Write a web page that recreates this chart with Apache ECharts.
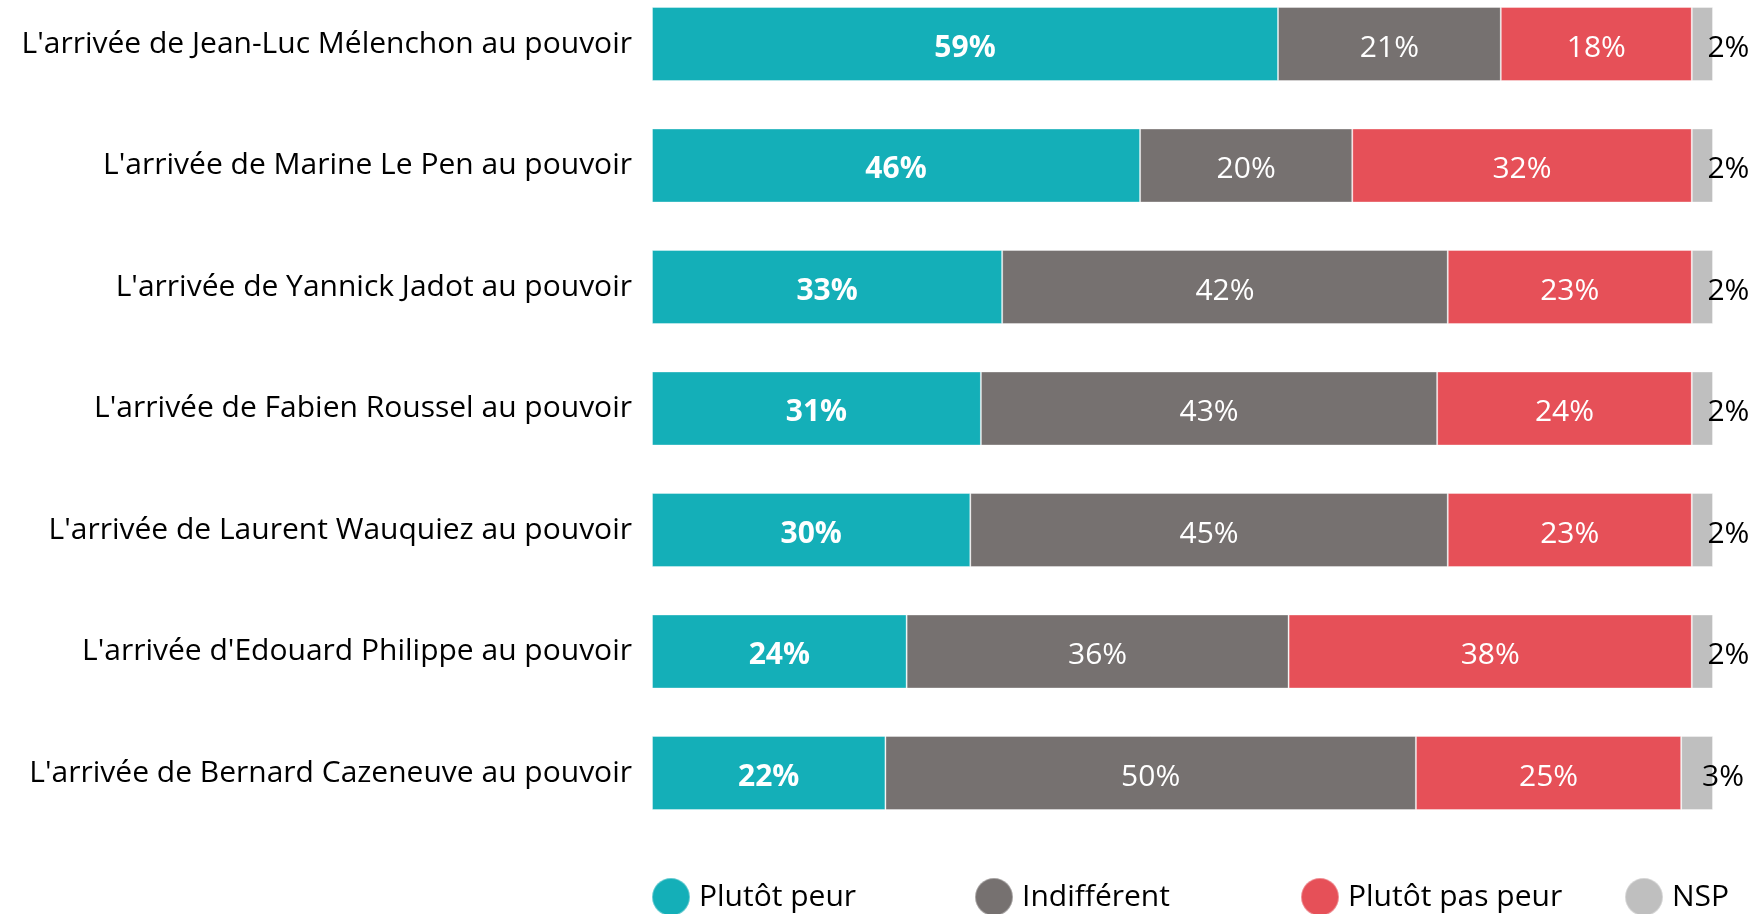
<!DOCTYPE html>
<html>
<head>
<meta charset="utf-8">
<script src="https://cdn.jsdelivr.net/npm/echarts@6/dist/echarts.min.js"></script>
<style>
  html, body { margin: 0; padding: 0; background: #fff; }
  #main { width: 1760px; height: 914px; }
</style>
</head>
<body>
<div id="main"></div>
<script>
const categories = [
    "L'arrivée de Jean-Luc Mélenchon au pouvoir",
    "L'arrivée de Marine Le Pen au pouvoir",
    "L'arrivée de Yannick Jadot au pouvoir",
    "L'arrivée de Fabien Roussel au pouvoir",
    "L'arrivée de Laurent Wauquiez au pouvoir",
    "L'arrivée d'Edouard Philippe au pouvoir",
    "L'arrivée de Bernard Cazeneuve au pouvoir"
];
const legendNames = ['Plutôt peur', 'Indifférent', 'Plutôt pas peur', 'NSP'];
const peur = [59, 46, 33, 31, 30, 24, 22];
const indifferent = [21, 20, 42, 43, 45, 36, 50];
const pasPeur = [18, 32, 23, 24, 23, 38, 25];
const nsp = [2, 2, 2, 2, 2, 2, 3];

const chart = echarts.init(document.getElementById('main'));
const font = '"Open Sans", "Noto Sans", sans-serif';

function serie(name, data, color, label) {
    return {
        name: name,
        type: 'bar',
        stack: 'total',
        barWidth: 74,
        data: data,
        itemStyle: {
            color: color,
            borderColor: 'rgba(255,255,255,0.35)',
            borderWidth: 1
        },
        label: Object.assign({
            show: true,
            formatter: '{c}%',
            fontFamily: font,
            fontSize: 30,
            offset: [0, 4]
        }, label)
    };
}

// one legend per item so each sits at its own fixed place
const legendLeft = [651, 974, 1300, 1624];
const legends = legendNames.map(function (n, i) {
    return {
        left: legendLeft[i],
        bottom: -3,
        padding: 0,
        icon: 'circle',
        itemWidth: 38,
        itemHeight: 38,
        itemGap: 0,
        textStyle: {
            fontSize: 30,
            fontFamily: font,
            color: '#000',
            padding: [0, 0, 0, 4]
        },
        data: [n]
    };
});

const option = {
    animation: false,
    textStyle: { fontFamily: font },
    grid: {
        left: 652,
        right: 47,
        top: 44,
        bottom: 141
    },
    xAxis: {
        type: 'value',
        min: 0,
        max: 100,
        show: false
    },
    yAxis: {
        type: 'category',
        inverse: true,
        boundaryGap: false,
        data: categories,
        axisLine: { show: false },
        axisTick: { show: false },
        axisLabel: {
            color: '#000',
            fontSize: 30,
            fontFamily: font,
            margin: 20,
            padding: [0, 0, 6, 0]
        }
    },
    legend: legends,
    series: [
        serie(legendNames[0], peur, '#14AFB8', { color: '#fff', fontWeight: 'bold' }),
        serie(legendNames[1], indifferent, '#767170', { color: '#fff' }),
        serie(legendNames[2], pasPeur, '#E65058', { color: '#fff' }),
        serie(legendNames[3], nsp, '#BFBFBF', { color: '#000', position: 'inside', offset: [26, 4] })
    ]
};
chart.setOption(option);
</script>
</body>
</html>
